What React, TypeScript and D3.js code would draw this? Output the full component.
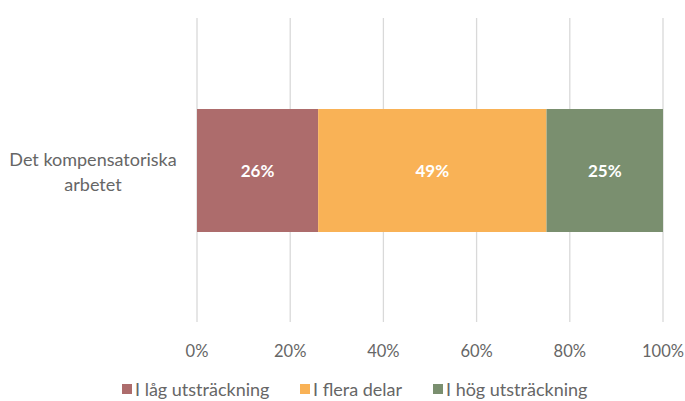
import React from "react";
import * as d3 from "d3";

const categories = ["Det kompensatoriska arbetet"];
const seriesNames = ["I låg utsträckning", "I flera delar", "I hög utsträckning"];
const seriesValues = [26, 49, 25];
const seriesColors = ["#AD6C6C", "#F9B256", "#7A8F6F"];
const ticks = [0, 20, 40, 60, 80, 100];

export default function App() {
  const W = 685, H = 401;
  const x = d3.scaleLinear().domain([0, 100]).range([197, 663]);
  let acc = 0;
  const segs = seriesValues.map((v, i) => {
    const s = { x0: acc, x1: acc + v, v, i };
    acc += v;
    return s;
  });
  const font = "Lato, 'Open Sans', sans-serif";
  const legendX = [122, 300, 433];
  return (
    <svg width={W} height={H} style={{ position: "absolute", left: 0, top: 0 }} fontFamily={font}>
      <rect width={W} height={H} fill="#fff" />
      {ticks.map((t) => (
        <line key={t} x1={x(t)} x2={x(t)} y1={18} y2={322} stroke="#D9D9D9" strokeWidth={1.3} />
      ))}
      {categories.map((c) =>
        segs.map((s) => (
          <g key={c + s.i}>
            <rect x={x(s.x0)} y={109} width={x(s.x1) - x(s.x0)} height={123} fill={seriesColors[s.i]} />
            <text x={(x(s.x0) + x(s.x1)) / 2} y={171} dy="0.35em" textAnchor="middle" fill="#fff" fontWeight="bold" fontSize={17}>
              {s.v}%
            </text>
          </g>
        ))
      )}
      <text x={93} y={160} dy="0.35em" textAnchor="middle" fill="#666" fontSize={18}>Det kompensatoriska</text>
      <text x={93} y={185} dy="0.35em" textAnchor="middle" fill="#666" fontSize={18}>arbetet</text>
      {ticks.map((t) => (
        <text key={t} x={x(t)} y={351} dy="0.35em" textAnchor="middle" fill="#666" fontSize={16.5}>{t}%</text>
      ))}
      {seriesNames.map((n, i) => (
        <g key={n}>
          <rect x={legendX[i]} y={384} width={10} height={10} fill={seriesColors[i]} />
          <text x={legendX[i] + 13} y={390} dy="0.35em" fill="#666" fontSize={18}>{n}</text>
        </g>
      ))}
    </svg>
  );
}
